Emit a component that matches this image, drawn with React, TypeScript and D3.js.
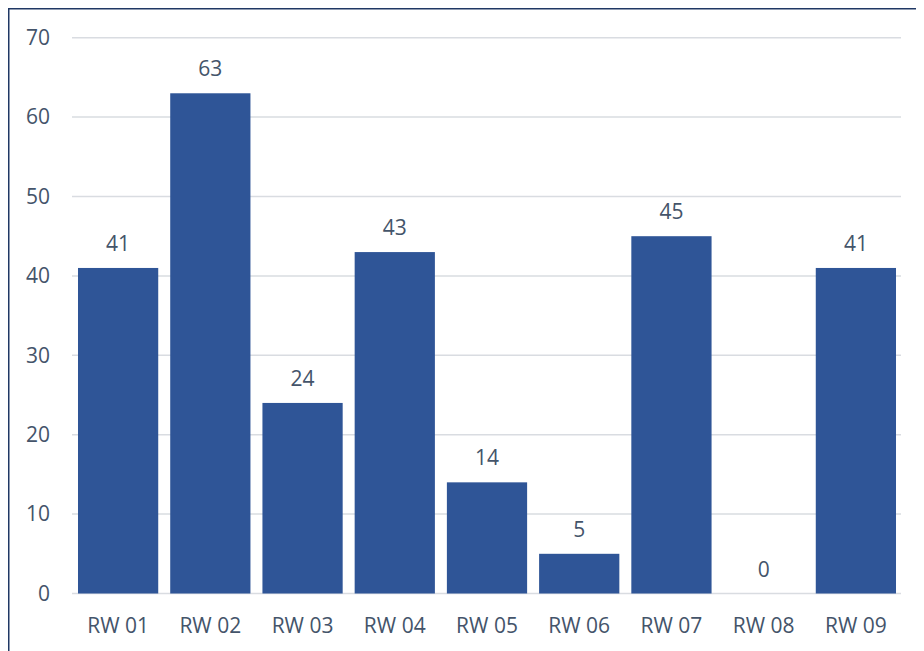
import React from "react";
import * as d3 from "d3";

const categories = ["RW 01", "RW 02", "RW 03", "RW 04", "RW 05", "RW 06", "RW 07", "RW 08", "RW 09"];
const values = [41, 63, 24, 43, 14, 5, 45, 0, 41];
const yTicks = [0, 10, 20, 30, 40, 50, 60, 70];

const W = 916;
const H = 643;
const FONT = "'Open Sans', sans-serif";
const TEXT = "#44546A";
const BAR = "#2F5597";
const GRID = "#D9DCE1";

export default function App() {
  // layout in page coordinates; the group below shifts by the body margin
  const x = d3.scaleBand<string>().domain(categories).range([72, 902]).paddingInner(0.13).paddingOuter(0.065);
  const y = d3.scaleLinear().domain([0, 70]).range([593.5, 37.7]);

  return (
    <svg width={W} height={H} style={{ display: "block" }}>
      <rect x={0.75} y={0.75} width={2000} height={2000} fill="#fff" stroke="#203864" strokeWidth={1.5} />
      <g transform="translate(-8,-8)" fontFamily={FONT} fill={TEXT}>
        {yTicks.map((t) => (
          <g key={t}>
            <line x1={72} x2={901} y1={y(t)} y2={y(t)} stroke={GRID} strokeWidth={1.5} />
            <text x={50} y={y(t)} dy="0.35em" textAnchor="end" fontSize={21}>
              {t}
            </text>
          </g>
        ))}
        {categories.map((c, i) => (
          <g key={c}>
            <rect x={x(c)} y={y(values[i])} width={x.bandwidth()} height={y(0) - y(values[i])} fill={BAR} />
            <text x={(x(c) ?? 0) + x.bandwidth() / 2} y={y(values[i]) - 17} textAnchor="middle" fontSize={21}>
              {values[i]}
            </text>
            <text x={(x(c) ?? 0) + x.bandwidth() / 2} y={y(0) + 39.5} textAnchor="middle" fontSize={21}>
              {c}
            </text>
          </g>
        ))}
      </g>
    </svg>
  );
}
